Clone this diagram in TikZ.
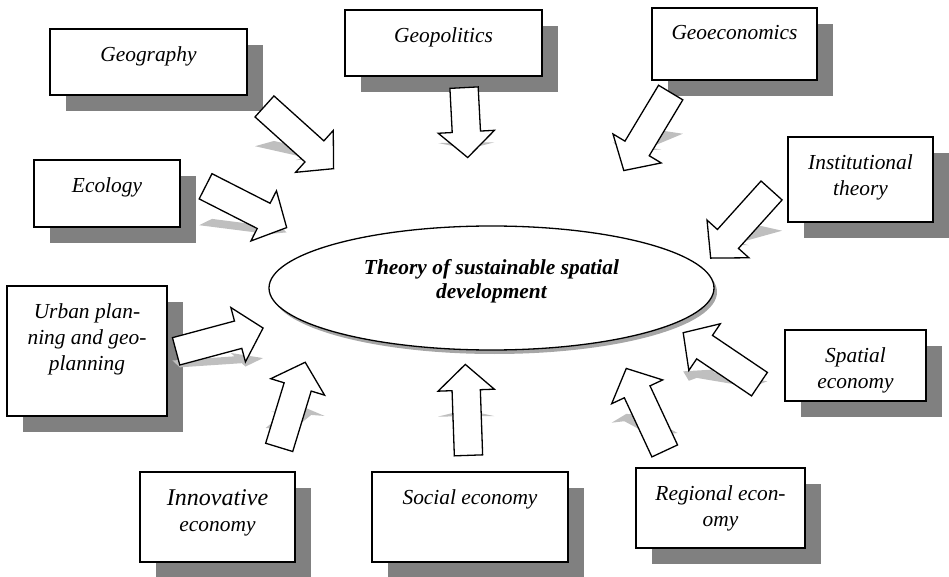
\documentclass[tikz,border=0pt]{standalone}
\usepackage{fontspec}
\setmainfont{Liberation Serif}
\usetikzlibrary{shapes.geometric, shapes.arrows, shadows}

\begin{document}
\begin{tikzpicture}[x=1pt, y=1pt]
    \tikzstyle{box}=[draw, line width=1.3pt, fill=white, drop shadow={shadow xshift=16pt, shadow yshift=-16pt, fill=black!50, opacity=1}]
    \tikzstyle{boxtext}=[anchor=north, align=center, inner sep=0pt, yshift=-18pt, font=\fontsize{21.4}{26}\selectfont\itshape]
    \tikzstyle{hub}=[ellipse, draw, line width=1.3pt, fill=white, minimum width=445pt, minimum height=124pt, drop shadow={shadow xshift=3pt, shadow yshift=-4pt, fill=black!35, opacity=1}]
    \tikzstyle{hubtext}=[anchor=north, align=center, inner sep=0pt, yshift=-34pt, font=\fontsize{21.4}{24}\selectfont\bfseries\itshape]
    \tikzstyle{fatarrow}=[single arrow, draw, line width=1.3pt, fill=white, minimum width=55pt, single arrow head extend=14pt, single arrow tip angle=95, inner xsep=0pt, inner ysep=13.5pt, anchor=tail]

    \useasboundingbox (0,0) rectangle (949,576);

    \node[hub, label={[hubtext]north:Theory of sustainable spatial\\development}] (theory) at (491.5,288) {};

    \node[box, minimum width=197pt, minimum height=66pt, label={[boxtext]north:Geography}] (geography) at (148.5,514) {};
    \node[box, minimum width=146pt, minimum height=67pt, label={[boxtext]north:Ecology}] (ecology) at (107,382.5) {};
    \node[box, minimum width=197pt, minimum height=66pt, label={[boxtext]north:Geopolitics}] (geopolitics) at (443.5,533) {};
    \node[box, minimum width=165pt, minimum height=72pt, label={[boxtext]north:Geoeconomics}] (geoeconomics) at (734.5,532) {};
    \node[box, minimum width=145pt, minimum height=85pt, label={[boxtext]north:Institutional\\theory}] (institutional) at (860.5,396.5) {};
    \node[box, minimum width=160pt, minimum height=130pt, label={[boxtext]north:Urban plan-\\ning and geo-\\planning}] (urban) at (87,225) {};
    \node[box, minimum width=155pt, minimum height=90pt, label={[boxtext]north:{\fontsize{24}{28}\selectfont Innovative}\\economy}] (innovative) at (217.5,59) {};
    \node[box, minimum width=196pt, minimum height=90pt, label={[boxtext]north:Social economy}] (social) at (470,59) {};
    \node[box, minimum width=169pt, minimum height=80pt, label={[boxtext]north:Regional econ-\\omy}] (regional) at (720.5,68) {};
    \node[box, minimum width=141pt, minimum height=71pt, label={[boxtext]north:Spatial\\economy}] (spatial) at (855.5,210.5) {};

    % block arrows: tail x / tail y / direction / length, each with a flat shadow
    \foreach \n/\x/\y/\a/\l in {geography-arr/264/470/-42/93, ecology-arr/205/390/-27/91,
        geopolitics-arr/464/489/-87/70, geoeconomics-arr/671/484/-121/91,
        institutional-arr/772/386/-132/91, urban-arr/175.5/224.5/15/90,
        innovative-arr/279/128/73/89, social-arr/468.5/120/92/91,
        regional-arr/665/124.5/115/91, spatial-arr/760/191.5/146/92}{
      \pgfmathsetmacro\t{max(\y+13.5*abs(cos(\a)), \y+(\l-25)*sin(\a)+27.5*abs(cos(\a)), \y+\l*sin(\a))-60}
      \begin{scope}[shift={(0,\t)}, yscale=0.25, shift={(0,-\t)}, transform shape]
        \node[fatarrow, draw=none, fill=black!25, minimum height=\l pt, rotate=\a] (\n-shadow) at (\x,\y) {};
      \end{scope}
      \node[fatarrow, minimum height=\l pt, rotate=\a] (\n) at (\x,\y) {};
    }
\end{tikzpicture}
\end{document}
